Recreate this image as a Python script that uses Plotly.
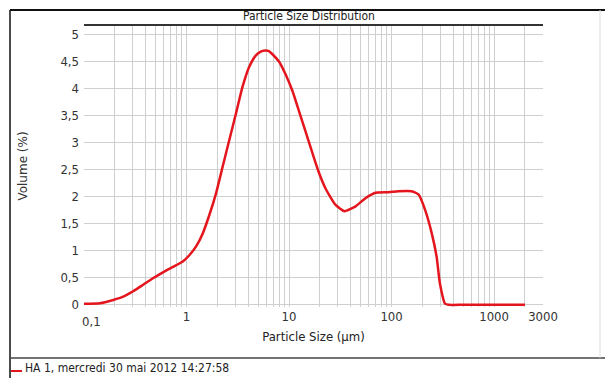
import plotly.graph_objects as go

# ---- data ----
size_um = [0.1, 0.143, 0.193, 0.241, 0.301, 0.377, 0.471, 0.589, 0.736, 0.92, 1.07, 1.24,
           1.44, 1.67, 1.94, 2.25, 2.61, 3.04, 3.52, 4.09, 4.75, 5.3, 5.81, 6.3, 6.89, 8.0, 9.29,
           10.8, 12.5, 14.5, 16.8, 19.5, 22.7, 28.3, 34.8, 44.6, 55.6, 69.7, 93, 117,
           157, 183, 212, 246, 275, 296, 333, 360, 500, 1000, 2000]
volume_pct = [0.02, 0.03, 0.09, 0.15, 0.25, 0.37, 0.49, 0.60, 0.70, 0.80, 0.92, 1.08,
              1.32, 1.66, 2.06, 2.55, 3.04, 3.54, 4.03, 4.40, 4.61, 4.68, 4.70, 4.69, 4.63, 4.49, 4.25,
              3.95, 3.58, 3.2, 2.82, 2.45, 2.15, 1.85, 1.73, 1.82, 1.97, 2.07, 2.08, 2.1,
              2.1, 2.04, 1.76, 1.33, 0.89, 0.40, 0.02, 0.0, 0.0, 0.0, 0.0]

x_major_vals = [0.1, 1, 10, 100, 1000, 3000]
x_major_text = ["0,1", "1", "10", "100", "1000", "3000"]
y_tick_vals = [0, 0.5, 1, 1.5, 2, 2.5, 3, 3.5, 4, 4.5, 5]
y_tick_text = ["0", "0,5", "1", "1,5", "2", "2,5", "3", "3,5", "4", "4,5", "5"]

series_name = "HA 1, mercredi 30 mai 2012 14:27:58"
title_text = "Particle Size Distribution"

# grid positions: every 1..9 x 10^k inside range
grid_vals = []
for k in range(-1, 4):
    for m in range(1, 10):
        v = m * 10 ** k
        if v <= 3000 + 1e-9:
            grid_vals.append(round(v, 6))
tickvals = sorted(set(grid_vals + x_major_vals))
ticktext = []
for v in tickvals:
    t = ""
    for mv, mt in zip(x_major_vals, x_major_text):
        # first label is drawn separately (shifted, as in the reference)
        if abs(v - mv) < 1e-9 and mv != x_major_vals[0]:
            t = mt
    ticktext.append(t)

W, H = 605, 378
ML, MR, MT, MB = 84, 62, 25, 71
PW, PH = W - ML - MR, H - MT - MB

def px(x):
    return (x - ML) / PW

def py(y):
    return 1 - (y - MT) / PH

NARROW = "Liberation Sans Narrow, Arial Narrow, DejaVu Sans Condensed, sans-serif"
RED = "#e4151c"

fig = go.Figure()
fig.add_trace(go.Scatter(
    x=size_um, y=volume_pct, mode="lines", name=series_name,
    line=dict(color=RED, width=2.5, shape="spline", smoothing=0.5),
    cliponaxis=False, showlegend=False,
))

fig.update_layout(
    width=W, height=H,
    margin=dict(l=ML, r=MR, t=MT, b=MB),
    paper_bgcolor="white", plot_bgcolor="white",
    xaxis=dict(
        type="log", range=[-1, 3.4771], tickvals=tickvals, ticktext=ticktext,
        showgrid=True, gridcolor="#cfcfcf", gridwidth=1, zeroline=False,
        ticks="", showline=False,
        tickfont=dict(family=NARROW, size=13, color="#333333"),
        title=dict(text="Particle Size (µm)", standoff=8,
                   font=dict(family=NARROW, size=13, color="#222222")),
    ),
    yaxis=dict(
        range=[-0.04, 5.17], tickvals=y_tick_vals, ticktext=y_tick_text,
        showgrid=True, gridcolor="#cfcfcf", gridwidth=1, zeroline=False,
        ticks="", showline=False, ticklabelstandoff=4,
        tickfont=dict(family=NARROW, size=13, color="#333333"),
        title=dict(text="Volume (%)", standoff=30,
                   font=dict(family="DejaVu Sans, sans-serif", size=12, color="#333333")),
    ),
)

shapes = [
    # dark top line of plot area
    dict(type="line", xref="paper", yref="paper", x0=0, x1=1, y0=1, y1=1,
         line=dict(color="#333333", width=2)),
    # outer frame
    dict(type="line", xref="paper", yref="paper", x0=px(10), x1=px(605), y0=py(10), y1=py(10),
         line=dict(color="#111111", width=2)),
    dict(type="line", xref="paper", yref="paper", x0=px(10), x1=px(10), y0=py(10), y1=py(378),
         line=dict(color="#111111", width=1.5)),
    dict(type="line", xref="paper", yref="paper", x0=px(10), x1=px(605), y0=py(358), y1=py(358),
         line=dict(color="#444444", width=1.5)),
    dict(type="line", xref="paper", yref="paper", x0=px(600), x1=px(600), y0=py(10), y1=py(358),
         line=dict(color="#dddddd", width=1)),
    # legend swatch
    dict(type="line", xref="paper", yref="paper", x0=px(11), x1=px(22), y0=py(371), y1=py(371),
         line=dict(color=RED, width=2)),
]
fig.update_layout(shapes=shapes)

# first x tick label, shifted right and down as in the reference
fig.add_annotation(text=x_major_text[0], xref="x", yref="paper", x=-1, y=py(321),
                   xanchor="center", yanchor="middle", xshift=7, showarrow=False,
                   font=dict(family=NARROW, size=13, color="#333333"))
fig.add_annotation(text=title_text, xref="paper", yref="paper", x=px(309), y=py(25),
                   xanchor="center", yanchor="bottom", showarrow=False,
                   font=dict(family=NARROW, size=12, color="#222222"))
fig.add_annotation(text=series_name, xref="paper", yref="paper", x=px(23), y=py(368),
                   xanchor="left", yanchor="middle", showarrow=False,
                   font=dict(family=NARROW, size=12, color="#222222"))

fig.write_html("out.html")
